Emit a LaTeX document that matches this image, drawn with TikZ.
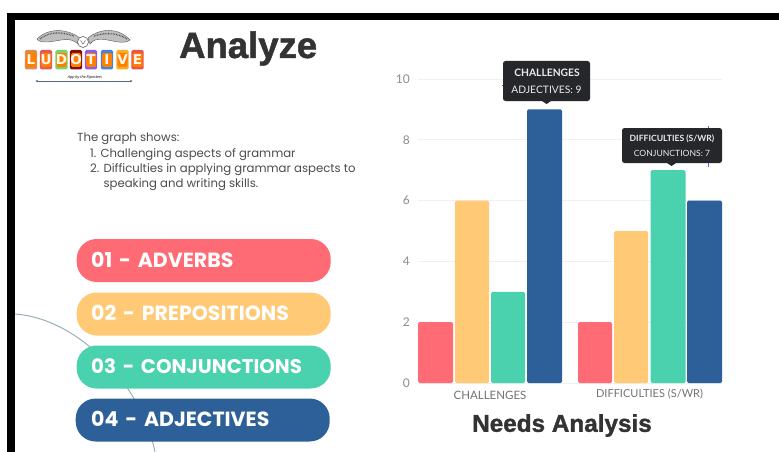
\documentclass[tikz,border=0pt]{standalone}
\usepackage{fontspec}
\setmainfont{Open Sans}
\newfontfamily\pop{Poppins}
\newfontfamily\heavy[BoldFeatures={FakeBold=1.4}]{Liberation Sans}
\newfontfamily\lato{Lato}
\newfontfamily\tilefont{DejaVu Sans}
\newcommand{\pilldash}{\hspace{2.5pt} - \hspace{2.5pt}}
\definecolor{cred}{HTML}{FF6B75}
\definecolor{cyel}{HTML}{FFC976}
\definecolor{cgrn}{HTML}{4AD1AE}
\definecolor{cblu}{HTML}{2D5F99}
\definecolor{tipbg}{HTML}{25272B}
\definecolor{arcc}{HTML}{8FAAB2}
\definecolor{logoline}{HTML}{5A6680}
\definecolor{purp}{HTML}{8A4CF0}
\tikzset{
 x=1pt,y=-1pt,
 pill/.style={rounded corners=20pt,minimum width=#1,minimum height=43pt,inner sep=0pt,text=white,align=left},
 pilltext/.style={anchor=west,text=white,font=\pop\fontsize{#1}{24}\selectfont\bfseries,inner sep=0pt},
 pilltext/.default=20.5,
 tick/.style={font=\lato\fontsize{12}{14}\selectfont,text=black!45,inner sep=0pt},
 cat/.style={font=\lato\fontsize{#1}{14}\selectfont,text=black!55,inner sep=0pt},
 gridl/.style={draw=black!6,line width=.8pt},
 tip/.style={fill=tipbg,rounded corners=2.5pt,draw=none},
 tiptext/.style={text=white!92!black,inner sep=0pt},
 wing/.style={fill=black!25,draw=black!65,line width=.4pt},
 feather/.style={draw=black!70,line width=1.3pt,dash pattern=on .7pt off .9pt},
}
\begin{document}
\begin{tikzpicture}
\useasboundingbox (0,0) rectangle (779,452);
\fill[white] (0,0) rectangle (779,452);
% frame
\fill[black] (7,13) rectangle (779,20);
\fill[black] (7,13) rectangle (15,452);
% arc
\coordinate (arcA) at (15,314);
\coordinate (arcB) at (155,452);
\draw[arcc,line width=.9pt] (arcA) .. controls (75,318) and (140,380) .. (arcB);
% logo wings
\fill[wing] (80,38) .. controls (70,30) and (50,26) .. (37,39) .. controls (38,42) and (44,42) .. (48,42) .. controls (60,41) and (70,36) .. (78,44) -- cycle;
\fill[wing] (88,38) .. controls (100,28) and (118,27) .. (130,40) .. controls (126,43) and (122,42) .. (118,42) .. controls (106,40) and (96,36) .. (90,44) -- cycle;
\draw[feather] (40,39) .. controls (50,31) and (62,32) .. (74,36);
\draw[feather] (94,36) .. controls (106,32) and (118,33) .. (127,39);
\draw[black!70,fill=white,line width=.5pt] (83,42) circle (5.5pt);
\draw[black!70,line width=.4pt] (80.5,40.5) -- (83,44) -- (85.5,40.5);
\foreach \x/\c/\l in {31/D98B52/L,46/E9565A/U,61.5/74D66A/D,76/7A0F0F/O,91/8A5CF0/T,107/3F83E8/I,122.5/F7AE24/V,137.5/E8524F/E}{
 \definecolor{tmp}{HTML}{\c}
 \fill[tmp,rounded corners=1.5pt] (\x-6.2,50) rectangle (\x+6.2,69.5);
 \fill[orange,rounded corners=1.5pt] (\x-4.8,53) rectangle (\x+5,67);
 \node[inner sep=0pt,font=\tilefont\bfseries\fontsize{13.5}{13}\selectfont,text=orange!8!white] (t\l) at (\x,60) {\l};
}
\coordinate (la) at (37,81);
\coordinate (lb) at (131,81);
\draw[logoline,line width=.6pt] (la) -- (lb);
\fill[logoline] (la) circle (1.2pt) (lb) circle (1.2pt);
\node[inner sep=0pt,font=\itshape\fontsize{3.8}{4}\selectfont] at (85,78) {App by the Riposters};
% title
\node[anchor=west,inner sep=0pt,font=\heavy\bfseries\fontsize{36.5}{38}\selectfont,text=black!80] (title) at (179,48.5) {Analyze};
% description
\node[anchor=north west,inner sep=0pt,font=\pop\fontsize{11.7}{15}\selectfont,text=black!70] (desc) at (77,133) {The graph shows:};
\node[anchor=north west,inner sep=0pt,font=\pop\fontsize{11.7}{15}\selectfont,text=black!70,align=left] (d1) at (90,148.5) {1. Challenging aspects of grammar\\2. Difficulties in applying grammar aspects to\\\phantom{2. }speaking and writing skills.};
% pills
\node[pill=254pt,fill=cred,anchor=west] (p1) at (76.5,260.5) {};
\node[pill=254pt,fill=cyel,anchor=west] (p2) at (76.5,314) {};
\node[pill=254pt,fill=cgrn,anchor=west] (p3) at (76.5,367) {};
\node[pill=254pt,fill=cblu,anchor=west] (p4) at (75.5,420) {};
\node[pilltext] at (91,260) {01\pilldash ADVERBS};
\node[pilltext] at (91,313) {02\pilldash PREPOSITIONS};
\node[pilltext=19.8] at (91,366) {03\pilldash CONJUNCTIONS};
\node[pilltext] at (91,419) {04\pilldash ADJECTIVES};
% chart grid
\foreach \v/\yy in {0/383,2/322.2,4/261.4,6/200.6,8/139.8,10/79}{
 \draw[gridl] (418,\yy) -- (722,\yy);
 \node[tick,anchor=east] at (410,\yy) {\v};
}
% bars
\foreach \xa/\xb/\c/\v in {418/453/cred/2,455/489/cyel/6,491/525/cgrn/3,527/562/cblu/9,578/612/cred/2,614/648/cyel/5,650.5/685.5/cgrn/7,687/722/cblu/6}{
 \fill[\c,rounded corners=1.5pt] (\xa,383) -- (\xa,383-30.4*\v) -- (\xb,383-30.4*\v) -- (\xb,383) -- cycle;
}
\node[cat=11.5] at (490,395) {CHALLENGES};
\node[cat=11] at (649.5,394.5) {DIFFICULTIES (S/WR)};
\node[inner sep=0pt,font=\heavy\bfseries\fontsize{24.3}{28}\selectfont,text=black!80] (na) at (562,425.5) {Needs Analysis};
% tooltips
\draw[purp,line width=.7pt] (501.5,85) -- (505,85);
\draw[purp,line width=.7pt] (708,126) -- (708,167);
\fill[tip] (503,61) rectangle (590,101);
\fill[tipbg] (542,101) -- (546.5,104) -- (551,101) -- cycle;
\node[tiptext,font=\lato\bfseries\fontsize{10.3}{12}\selectfont] at (547,72.5) {CHALLENGES};
\node[tiptext,font=\lato\fontsize{10.3}{12}\selectfont] at (546.5,90) {ADJECTIVES: 9};
\fill[tip] (622,128) rectangle (722,163);
\fill[tipbg] (667,163) -- (671.5,166) -- (676,163) -- cycle;
\node[tiptext,font=\lato\bfseries\fontsize{8.6}{10}\selectfont] at (672,138.5) {DIFFICULTIES (S/WR)};
\node[tiptext,font=\lato\fontsize{8.6}{10}\selectfont] at (672,153) {CONJUNCTIONS: 7};
\end{tikzpicture}
\end{document}
